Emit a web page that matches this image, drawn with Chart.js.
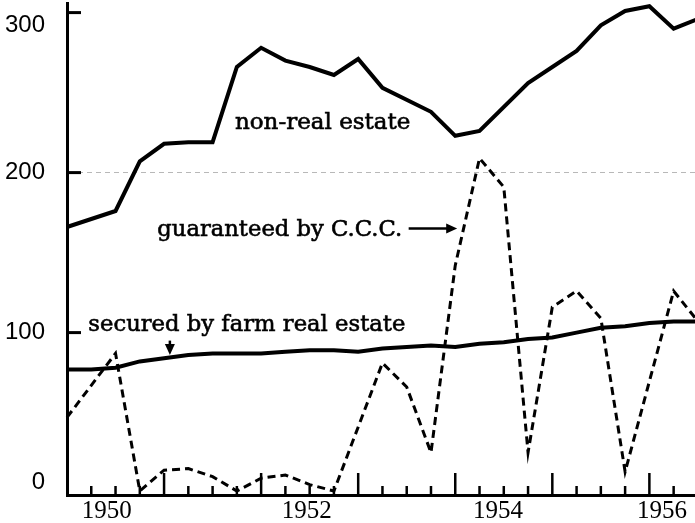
<!DOCTYPE html>
<html>
<head>
<meta charset="utf-8">
<script src="https://cdn.jsdelivr.net/npm/chart.js@4/dist/chart.umd.min.js"></script>
<style>
  html, body { margin: 0; padding: 0; background: #fff; }
  #chart { display: block; }
</style>
</head>
<body>
<canvas id="chart" width="695" height="523"></canvas>
<script>
// quarterly readings, 1950 - mid 1956 (null = no visible kink, line runs straight through)
var quarters = [1950, 1950.25, 1950.5, 1950.75, 1951, 1951.25, 1951.5, 1951.75,
                1952, 1952.25, 1952.5, 1952.75, 1953, 1953.25, 1953.5, 1953.75,
                1954, 1954.25, 1954.5, 1954.75, 1955, 1955.25, 1955.5, 1955.75,
                1956, 1956.25, 1956.5];
var nonRealEstate = [166, null, 176, 207, 218, 219, 219, 266,
                     278, 270, 266, 261, 271, 253, null, 238,
                     223, 226, null, 256, 266, 276, 292, 301,
                     304, 290, 296];
var farmRealEstate = [77, 77, 78, 82, 84, 86, 87, 87,
                      87, 88, 89, 89, 88, 90, 91, 92,
                      91, 93, 94, 96, 97, 100, 103, 104,
                      106, 107, 107];
var guaranteedCCC = [47, null, 87, 1, 14, 15, 10, 1,
                     9, 11, 5, 1, null, 81, 66, 25,
                     142, 209, 191, 25, 116, 126, 109, 13,
                     null, 126, 107];

var yTicks = [0, 100, 200, 300];
var xYearLabels = [1950, 1952, 1954, 1956];
var xYearLabelPos = [1950.41, 1952.47, 1954.44, 1956.13];

// hand-lettered value labels sit a little inside the end ticks
var yLabelNudge = [-10, 0, 0, 13];

var notes = [
  { text: 'non-real estate', x: 1951.73, y: 231, width: 177 },
  { text: 'guaranteed by C.C.C.', x: 1950.93, y: 164, width: 245 },
  { text: 'secured by farm real estate', x: 1950.22, y: 105, width: 317 }
];
var arrows = [
  { from: [1953.52, 165], to: [1954.02, 165] },
  { from: [1951.06, 95], to: [1951.06, 86] }
];

function toPoints(vals) {
  var pts = [];
  for (var i = 0; i < quarters.length; i++) {
    pts.push({ x: quarters[i], y: vals[i] });
  }
  return pts;
}

var drawExtras = {
  id: 'drawExtras',
  afterDatasetsDraw: function(chart) {
    var ctx = chart.ctx;
    var x = chart.scales.x, y = chart.scales.y;
    var bottom = chart.chartArea.bottom, left = chart.chartArea.left;
    ctx.save();
    ctx.strokeStyle = '#000';
    ctx.fillStyle = '#000';
    ctx.lineCap = 'butt';

    // quarter ticks pointing up from the time axis
    ctx.lineWidth = 2.5;
    for (var i = 1; i < quarters.length - 1; i++) {
      var px = x.getPixelForValue(quarters[i]);
      var len = (quarters[i] % 1 === 0) ? 22 : 9;
      ctx.beginPath();
      ctx.moveTo(px, bottom);
      ctx.lineTo(px, bottom - len);
      ctx.stroke();
    }

    // inward ticks and labels on value axis
    ctx.lineWidth = 3;
    ctx.font = '24px "Liberation Sans"';
    ctx.textAlign = 'right';
    ctx.textBaseline = 'middle';
    for (var j = 0; j < yTicks.length; j++) {
      var py = y.getPixelForValue(yTicks[j]);
      if (j > 0) {
        ctx.beginPath();
        ctx.moveTo(left, py);
        ctx.lineTo(left + 14, py);
        ctx.stroke();
      }
      ctx.fillText(String(yTicks[j]), left - 22, py + yLabelNudge[j]);
    }

    // labels
    ctx.font = '23px "DejaVu Serif"';
    ctx.textBaseline = 'middle';
    ctx.textAlign = 'left';
    ctx.lineWidth = 0.6;
    notes.forEach(function(n) {
      var tx = x.getPixelForValue(n.x), ty = y.getPixelForValue(n.y);
      ctx.fillText(n.text, tx, ty, n.width);
      ctx.strokeText(n.text, tx, ty, n.width);
    });

    // arrows
    ctx.lineWidth = 2.5;
    arrows.forEach(function(a) {
      var x1 = x.getPixelForValue(a.from[0]), y1 = y.getPixelForValue(a.from[1]);
      var x2 = x.getPixelForValue(a.to[0]), y2 = y.getPixelForValue(a.to[1]);
      var ang = Math.atan2(y2 - y1, x2 - x1);
      ctx.beginPath();
      ctx.moveTo(x1, y1);
      ctx.lineTo(x2 - 6 * Math.cos(ang), y2 - 6 * Math.sin(ang));
      ctx.stroke();
      ctx.beginPath();
      ctx.moveTo(x2, y2);
      ctx.lineTo(x2 - 11 * Math.cos(ang) + 5 * Math.sin(ang), y2 - 11 * Math.sin(ang) - 5 * Math.cos(ang));
      ctx.lineTo(x2 - 11 * Math.cos(ang) - 5 * Math.sin(ang), y2 - 11 * Math.sin(ang) + 5 * Math.cos(ang));
      ctx.closePath();
      ctx.fill();
    });
    ctx.restore();
  }
};

var ctx = document.getElementById('chart').getContext('2d');
var chart = new Chart(ctx, {
  type: 'line',
  data: {
    datasets: [
      {
        label: 'non-real estate',
        data: toPoints(nonRealEstate),
        borderColor: '#000',
        borderWidth: 4,
        pointRadius: 0,
        spanGaps: true,
        tension: 0,
        clip: false
      },
      {
        label: 'secured by farm real estate',
        data: toPoints(farmRealEstate),
        borderColor: '#000',
        borderWidth: 4,
        pointRadius: 0,
        spanGaps: true,
        tension: 0,
        clip: false
      },
      {
        label: 'guaranteed by C.C.C.',
        data: toPoints(guaranteedCCC),
        borderColor: '#000',
        borderWidth: 3,
        borderDash: [8, 5],
        pointRadius: 0,
        spanGaps: true,
        tension: 0,
        clip: false
      }
    ]
  },
  options: {
    responsive: false,
    animation: false,
    devicePixelRatio: 1,
    layout: { padding: { top: 3, right: 0, bottom: 0, left: 0 } },
    plugins: {
      legend: { display: false },
      tooltip: { enabled: false }
    },
    scales: {
      x: {
        type: 'linear',
        min: 1950,
        max: 1956.47,
        afterFit: function(scale) { scale.height = 28; scale.paddingLeft = 0; scale.paddingRight = 0; },
        afterBuildTicks: function(scale) {
          scale.ticks = xYearLabelPos.map(function(v) { return { value: v }; });
        },
        ticks: {
          autoSkip: false,
          maxRotation: 0,
          padding: 1,
          color: '#000',
          font: { family: '"Liberation Serif"', size: 25 },
          callback: function(value, index) { return String(xYearLabels[index]); }
        },
        grid: { display: false, drawTicks: false },
        border: { display: true, color: '#000', width: 3 }
      },
      y: {
        min: -1.5,
        max: 306,
        afterFit: function(scale) { scale.width = 67; scale.paddingTop = 0; scale.paddingBottom = 0; },
        afterBuildTicks: function(scale) {
          scale.ticks = yTicks.map(function(v) { return { value: v }; });
        },
        ticks: { display: false },
        grid: {
          drawTicks: false,
          color: function(c) { return (c.tick && c.tick.value === 200) ? 'rgba(0,0,0,0.28)' : 'rgba(0,0,0,0)'; },
          lineWidth: 1
        },
        border: { display: true, color: '#000', width: 3, dash: [5, 4] }
      }
    }
  },
  plugins: [drawExtras]
});
</script>
</body>
</html>
